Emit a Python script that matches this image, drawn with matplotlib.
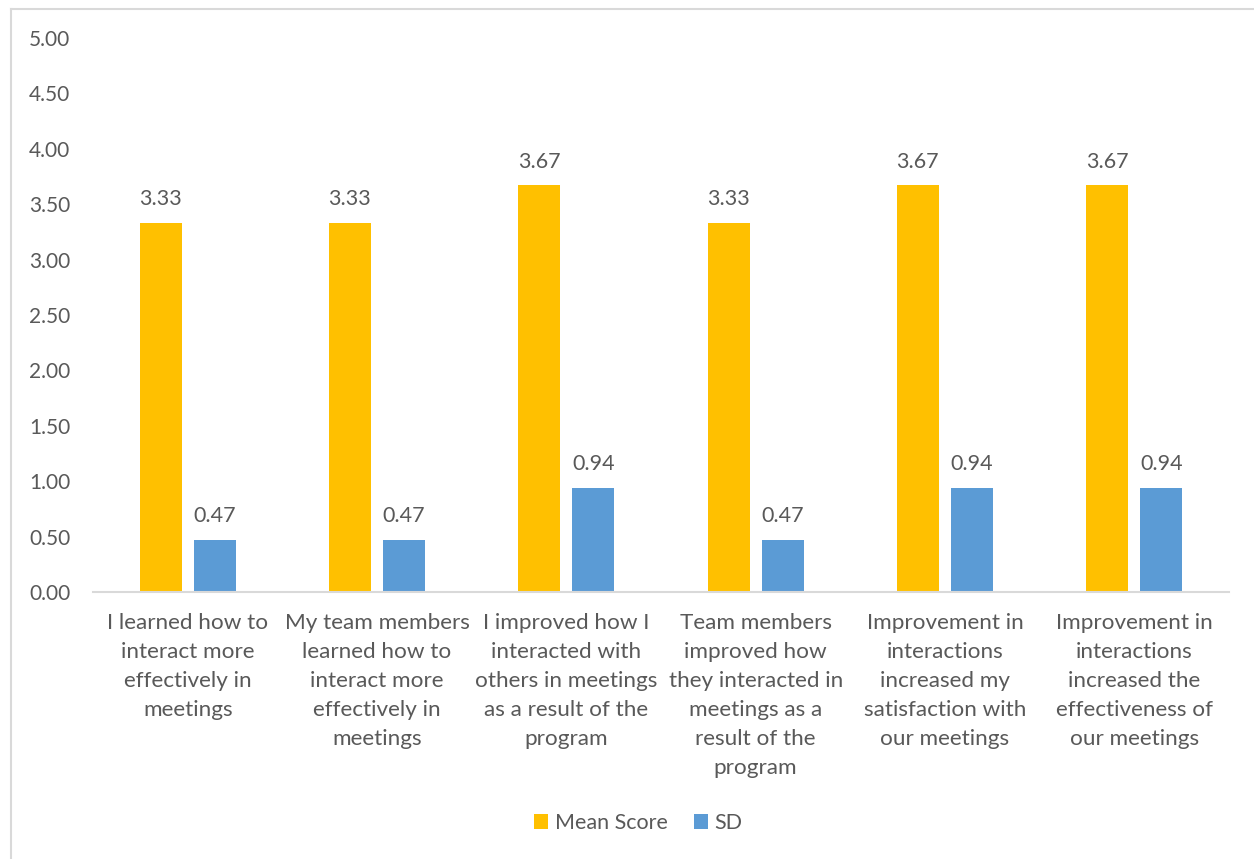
import matplotlib.pyplot as plt
from matplotlib.lines import Line2D
import numpy as np

categories = [
    "I learned how to\ninteract more\neffectively in\nmeetings",
    "My team members\nlearned how to\ninteract more\neffectively in\nmeetings",
    "I improved how I\ninteracted with\nothers in meetings\nas a result of the\nprogram",
    "Team members\nimproved how\nthey interacted in\nmeetings as a\nresult of the\nprogram",
    "Improvement in\ninteractions\nincreased my\nsatisfaction with\nour meetings",
    "Improvement in\ninteractions\nincreased the\neffectiveness of\nour meetings",
]
mean_score = [3.33, 3.33, 3.67, 3.33, 3.67, 3.67]
sd = [0.47, 0.47, 0.94, 0.47, 0.94, 0.94]

TEXT = "#595959"
plt.rcParams["font.family"] = ["Lato", "DejaVu Sans"]

fig = plt.figure(figsize=(12.54, 8.59), dpi=100)
ax = fig.add_axes([0.0742, 0.3108, 0.9058, 0.645])

x = np.arange(len(categories))
w = 0.222
b1 = ax.bar(x - 0.143, mean_score, w, color="#FFC000", label="Mean Score")
b2 = ax.bar(x + 0.143, sd, w, color="#5B9BD5", label="SD")

for bars in (b1, b2):
    for r in bars:
        ax.text(r.get_x() + r.get_width() / 2, r.get_height() + 0.215,
                f"{r.get_height():.2f}", ha="center", va="center",
                fontsize=15.5, color=TEXT)

ax.set_xlim(-0.5, len(categories) - 0.5)
ax.set_ylim(0, 5)
ax.set_yticks(np.arange(0, 5.01, 0.5))
ax.set_yticklabels([f"{v:.2f}" for v in np.arange(0, 5.01, 0.5)], fontsize=15)
ax.set_xticks(x)
ax.set_xticklabels(categories, linespacing=1.57, fontsize=16.2)

for s in ("top", "right", "left"):
    ax.spines[s].set_visible(False)
ax.spines["bottom"].set_color("#d9d9d9")
ax.spines["bottom"].set_linewidth(1.5)
ax.tick_params(axis="both", length=0, colors=TEXT)
ax.tick_params(axis="y", pad=46)
ax.tick_params(axis="x", pad=15)
for lbl in ax.get_yticklabels():
    lbl.set_horizontalalignment("left")

# chart area border (top and left edges visible)
fig.add_artist(Line2D([11 / 1254, 1], [1 - 9 / 859, 1 - 9 / 859], color="#d9d9d9", lw=1.5))
fig.add_artist(Line2D([11 / 1254, 11 / 1254], [0, 1 - 9 / 859], color="#d9d9d9", lw=1.5))

fig.legend(handles=[b1, b2], loc="center", bbox_to_anchor=(0.509, 1 - 823 / 859),
           ncol=2, frameon=False, fontsize=15.5, labelcolor=TEXT,
           handlelength=0.65, handleheight=0.65, handletextpad=0.3, columnspacing=1.2)

fig.savefig("out.png", dpi=100)
